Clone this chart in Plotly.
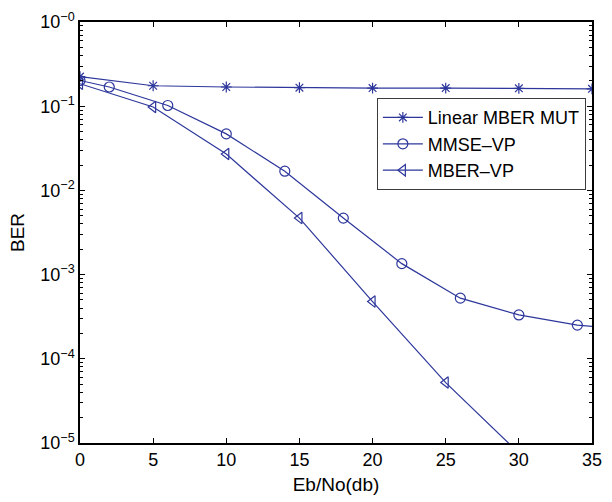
import plotly.graph_objects as go

# Eb/No (dB) sample points for each scheme
snr_linear = [0, 5, 10, 15, 20, 25, 30, 35]
ber_linear = [0.225, 0.175, 0.169, 0.166, 0.164, 0.164, 0.163, 0.161]

snr_mmse = [0, 2, 6, 10, 14, 18, 22, 26, 30, 34, 38]
ber_mmse = [0.202, 0.169, 0.102, 0.0469, 0.0169, 0.00469, 0.00135,
            5.25e-4, 3.32e-4, 2.51e-4, 2.2e-4]

snr_mber = [0, 5, 10, 15, 20, 25, 30]
ber_mber = [0.185, 0.098, 0.027, 0.00469, 4.78e-4, 5.22e-5, 7.6e-6]

x_ticks = [0, 5, 10, 15, 20, 25, 30, 35]
y_exponents = [-5, -4, -3, -2, -1, 0]
y_ticktext = ["10<sup>\u2212%d</sup>" % abs(e) for e in y_exponents]

LINE = "rgb(45,55,155)"
FONT = "Liberation Sans, Arial, Helvetica, sans-serif"

fig = go.Figure()

series = [
    ("Linear MBER MUT", snr_linear, ber_linear, "asterisk-open", 9),
    ("MMSE\u2013VP", snr_mmse, ber_mmse, "circle-open", 10),
    ("MBER\u2013VP", snr_mber, ber_mber, "triangle-left-open", 10),
]
for name, xs, ys, sym, size in series:
    fig.add_trace(go.Scatter(
        x=xs, y=ys, name=name, mode="lines+markers",
        line=dict(color=LINE, width=1.2),
        marker=dict(symbol=sym, size=size, color=LINE,
                    line=dict(color=LINE, width=1.2)),
    ))

minor_vals = [m * 10 ** e for e in range(-5, 0) for m in range(2, 10)]

fig.update_layout(
    width=612, height=502,
    margin=dict(l=80, r=10, t=21, b=56),
    paper_bgcolor="white", plot_bgcolor="white",
    font=dict(family=FONT, size=18, color="black"),
    showlegend=True,
    legend=dict(
        x=0.988, xanchor="right", y=0.819, yanchor="top",
        bordercolor="rgb(60,60,60)", borderwidth=1,
        bgcolor="white", font=dict(size=18),
        tracegroupgap=0, itemwidth=40,
    ),
    xaxis=dict(
        range=[0, 35], tickvals=x_ticks, ticktext=[str(v) for v in x_ticks],
        ticks="inside", ticklen=5, tickwidth=1, tickcolor="black",
        showline=True, linecolor="black", linewidth=1.5, mirror="ticks",
        showgrid=False, zeroline=False,
        title=dict(text="Eb/No(db)", font=dict(size=19), standoff=8),
        tickfont=dict(size=18),
    ),
    yaxis=dict(
        type="log", range=[-5, 0],
        tickvals=[10.0 ** e for e in y_exponents], ticktext=y_ticktext,
        ticks="inside", ticklen=5, tickwidth=1, tickcolor="black",
        minor=dict(tickvals=minor_vals, ticks="inside", ticklen=3,
                   tickcolor="black", tickwidth=1, showgrid=False),
        showline=True, linecolor="black", linewidth=1.5, mirror="ticks",
        showgrid=False, zeroline=False,
        title=dict(text="BER", font=dict(size=19), standoff=11),
        tickfont=dict(size=18),
    ),
)

fig.write_html("out.html")
